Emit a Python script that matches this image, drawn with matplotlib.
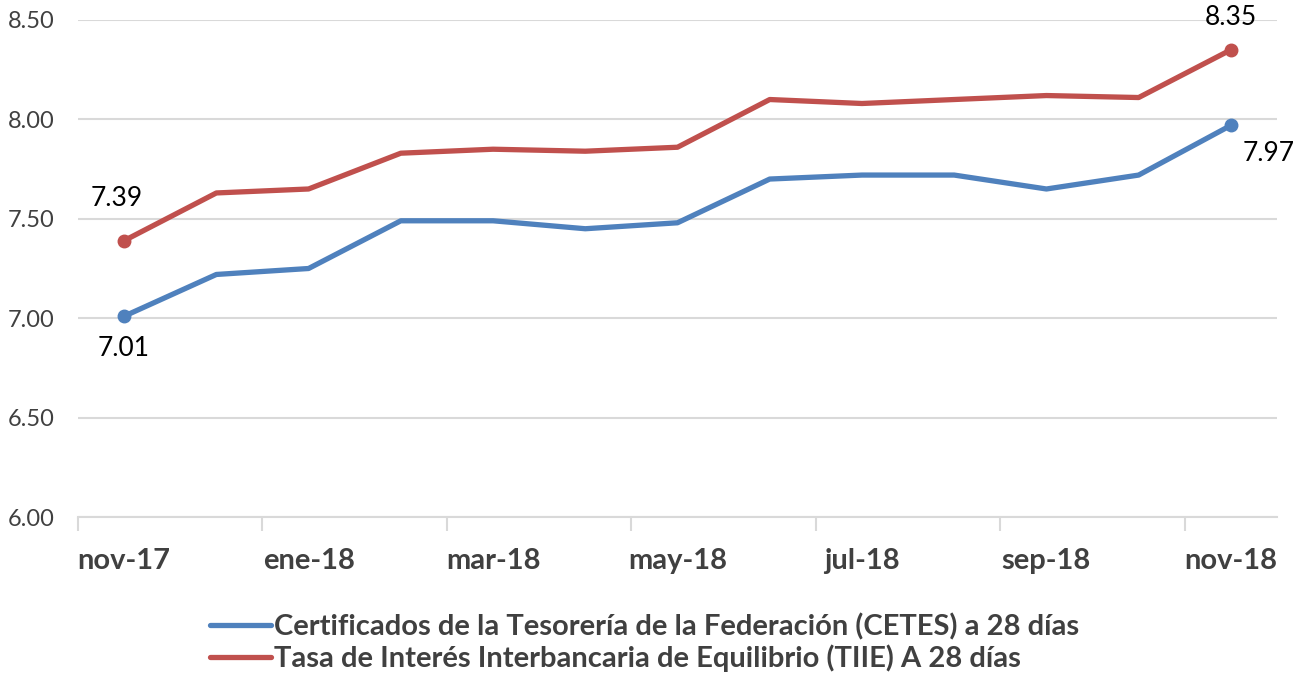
import matplotlib.pyplot as plt
import numpy as np

meses = ['nov-17', 'dic-17', 'ene-18', 'feb-18', 'mar-18', 'abr-18', 'may-18',
         'jun-18', 'jul-18', 'ago-18', 'sep-18', 'oct-18', 'nov-18']
cetes = [7.01, 7.22, 7.25, 7.49, 7.49, 7.45, 7.48, 7.70, 7.72, 7.72, 7.65, 7.72, 7.97]
tiie = [7.39, 7.63, 7.65, 7.83, 7.85, 7.84, 7.86, 8.10, 8.08, 8.10, 8.12, 8.11, 8.35]
nombre_cetes = 'Certificados de la Tesorería de la Federación (CETES) a 28 días'
nombre_tiie = 'Tasa de Interés Interbancaria de Equilibrio (TIIE) A 28 días'

plt.rcParams['font.family'] = ['Lato', 'DejaVu Sans']

azul = '#4F81BD'
rojo = '#C0504D'

fig = plt.figure(figsize=(13.09, 6.78), dpi=100)
ax = fig.add_axes([78 / 1309, 1 - 517 / 678, (1277 - 78) / 1309, (517 - 20) / 678])

x = np.arange(len(meses))
ax.plot(x, cetes, color=azul, lw=3.8, label=nombre_cetes, solid_capstyle='round', zorder=3)
ax.plot(x, tiie, color=rojo, lw=3.8, label=nombre_tiie, solid_capstyle='round', zorder=3)

# marcadores y etiquetas solo en los extremos
for serie, color in [(cetes, azul), (tiie, rojo)]:
    ax.plot([x[0], x[-1]], [serie[0], serie[-1]], 'o', color=color, ms=9, zorder=4)

kw = dict(textcoords='offset pixels', fontsize=19, color='black', ha='center', va='center')
ax.annotate(f'{tiie[0]:.2f}', (x[0], tiie[0]), xytext=(-7, 42), **kw)
ax.annotate(f'{cetes[0]:.2f}', (x[0], cetes[0]), xytext=(0, -32), **kw)
ax.annotate(f'{tiie[-1]:.2f}', (x[-1], tiie[-1]), xytext=(0, 32), **kw)
ax.annotate(f'{cetes[-1]:.2f}', (x[-1], cetes[-1]), xytext=(38, -28), **kw)

ax.set_xlim(-0.5, len(meses) - 0.5)
ax.set_ylim(6.0, 8.5)
ax.set_yticks(np.arange(6.0, 8.51, 0.5))
ax.set_yticklabels([f'{v:.2f}' for v in np.arange(6.0, 8.51, 0.5)], fontsize=17, color='#404040')
ax.grid(axis='y', color='#D9D9D9', lw=1.5)
ax.set_axisbelow(True)

ax.set_xticks(x[::2])
ax.set_xticklabels(meses[::2], fontsize=21, fontweight='bold', color='#404040')
ax.set_xticks(np.arange(-0.5, len(meses) - 1, 2), minor=True)
ax.tick_params(axis='x', which='major', length=0, pad=22)
ax.tick_params(axis='x', which='minor', length=10, width=1.5, color='#D9D9D9')
ax.tick_params(axis='y', length=0, pad=17)

for lado in ['left', 'right', 'top']:
    ax.spines[lado].set_visible(False)
ax.spines['bottom'].set_color('#D9D9D9')
ax.spines['bottom'].set_linewidth(1.5)

leg = fig.legend(loc='upper left', bbox_to_anchor=(210 / 1309, 1 - 613 / 678), frameon=False,
                 prop={'size': 21, 'weight': 'bold'}, handlelength=2.1, handletextpad=0.1,
                 labelspacing=0.15, borderpad=0, borderaxespad=0, labelcolor='#404040')

fig.savefig('out.png', dpi=100)
